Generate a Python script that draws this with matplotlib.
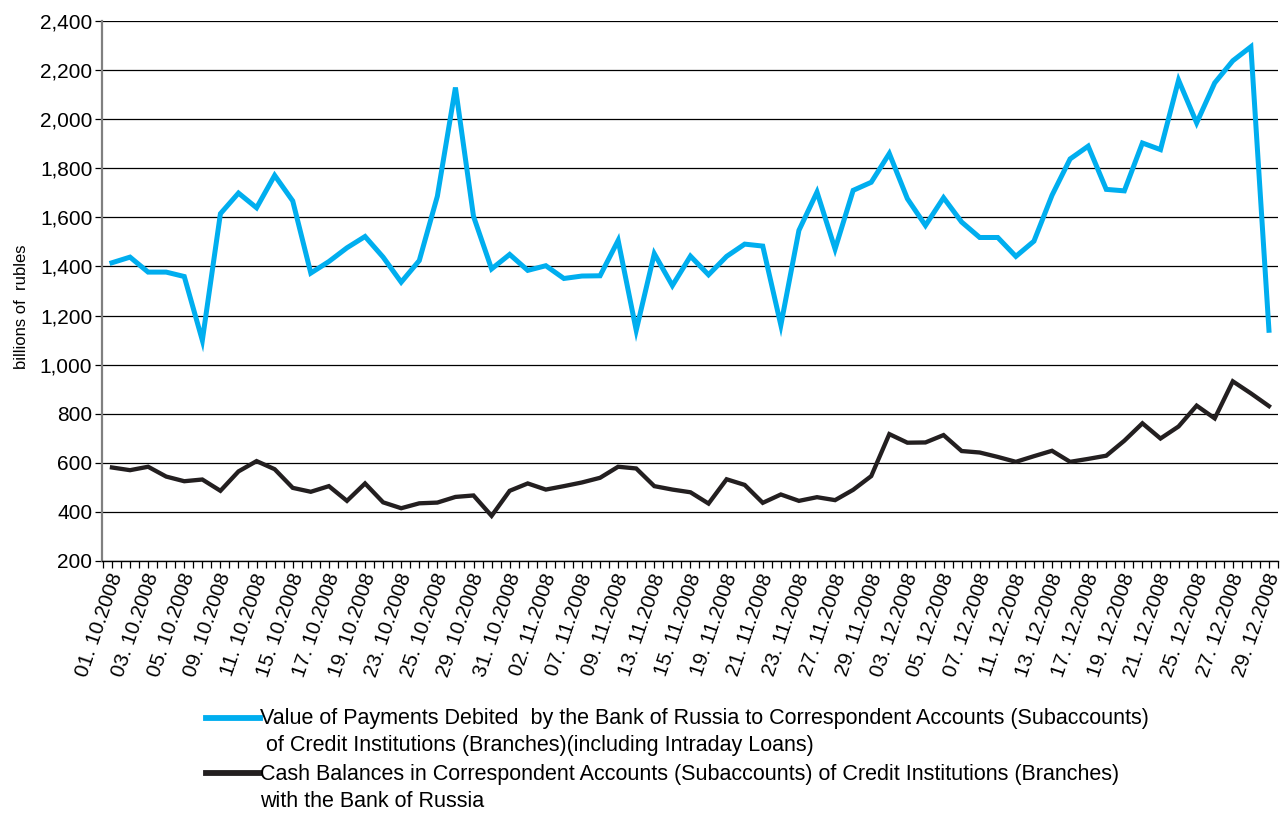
import numpy as np
import matplotlib
matplotlib.use('Agg')
import matplotlib.pyplot as plt
import matplotlib.transforms as mtransforms
from matplotlib.legend_handler import HandlerLine2D
from matplotlib.ticker import FuncFormatter, MultipleLocator

payments = [1415, 1438, 1377, 1377, 1359, 1099, 1615, 1699, 1639, 1771,
            1667, 1373, 1420, 1476, 1522, 1438, 1336, 1424, 1686, 2129,
            1604, 1390, 1449, 1384, 1403, 1351, 1361, 1362, 1506, 1140,
            1452, 1322, 1442, 1366, 1441, 1491, 1483, 1161, 1547, 1703,
            1471, 1710, 1743, 1860, 1676, 1567, 1680, 1581, 1518, 1518,
            1441, 1503, 1690, 1838, 1890, 1714, 1708, 1903, 1876, 2159,
            1985, 2148, 2238, 2295, 1140]

balances = [581, 570, 584, 544, 525, 532, 486, 565, 607, 574,
            498, 482, 505, 445, 516, 439, 415, 435, 438, 461,
            467, 384, 486, 516, 491, 505, 520, 539, 584, 577,
            505, 491, 480, 434, 533, 510, 437, 471, 445, 460,
            448, 490, 546, 717, 682, 683, 713, 648, 642, 624,
            604, 627, 649, 604, 616, 629, 690, 761, 699, 748,
            833, 781, 932, 883, 831]

# every second date is labelled on the axis
tick_labels = ['01. 10.2008', '03. 10.2008', '05. 10.2008', '09. 10.2008', '11. 10.2008',
               '15. 10.2008', '17. 10.2008', '19. 10.2008', '23. 10.2008', '25. 10.2008',
               '29. 10.2008', '31. 10.2008', '02. 11.2008', '07. 11.2008', '09. 11.2008',
               '13. 11.2008', '15. 11.2008', '19. 11.2008', '21. 11.2008', '23. 11.2008',
               '27. 11.2008', '29. 11.2008', '03. 12.2008', '05. 12.2008', '07. 12.2008',
               '11. 12.2008', '13. 12.2008', '17. 12.2008', '19. 12.2008', '21. 12.2008',
               '25. 12.2008', '27. 12.2008', '29. 12.2008']

label_payments = ('Value of Payments Debited  by the Bank of Russia to Correspondent Accounts (Subaccounts)\n'
                  ' of Credit Institutions (Branches)(including Intraday Loans)')
label_balances = ('Cash Balances in Correspondent Accounts (Subaccounts) of Credit Institutions (Branches)\n'
                  'with the Bank of Russia')

plt.rcParams['font.family'] = ['Liberation Sans', 'DejaVu Sans']

x = np.arange(len(payments))

fig = plt.figure(figsize=(12.82, 8.17), dpi=100)
ax = fig.add_axes([102 / 1282, 1 - 561 / 817, 1176 / 1282, 540 / 817])

l1, = ax.plot(x, payments, color='#00AEEF', lw=3.6, solid_joinstyle='miter', label=label_payments)
l2, = ax.plot(x, balances, color='#231F20', lw=3.1, solid_joinstyle='miter', label=label_balances)

ax.set_ylim(200, 2400)
ax.set_xlim(-0.55, 64.4)
ax.yaxis.set_major_locator(MultipleLocator(200))
ax.yaxis.set_major_formatter(FuncFormatter(lambda v, p: f'{int(v):,}'))
ax.grid(axis='y', color='black', lw=0.9)
ax.set_axisbelow(True)

ax.set_xticks(np.arange(0, len(payments), 2))
ax.set_xticklabels(tick_labels, rotation=71, ha='right', rotation_mode='anchor', fontsize=14.8)
ax.set_xticks(np.arange(-0.5, len(payments), 0.5), minor=True)
ax.tick_params(axis='x', which='both', direction='out', length=5, width=0.9, color='black', pad=2)
ax.tick_params(axis='y', direction='out', length=5, width=0.9, color='black', labelsize=15, pad=2)

# nudge the rotated date labels a little to the left
shift = mtransforms.ScaledTranslation(-4 / 100, 0, fig.dpi_scale_trans)
for lab in ax.get_xticklabels():
    lab.set_transform(lab.get_transform() + shift)

for s in ['top', 'right']:
    ax.spines[s].set_visible(False)
ax.spines['left'].set_color('#808080')
ax.spines['left'].set_linewidth(1.6)
ax.spines['bottom'].set_color('black')
ax.spines['bottom'].set_linewidth(1.0)

ax.set_ylabel('billions of  rubles', fontsize=12)
ax.yaxis.set_label_coords(-0.062, 0.47)


class TopLineHandler(HandlerLine2D):
    # put the legend key next to the first text line
    def create_artists(self, legend, orig_handle, xdescent, ydescent, width, height, fontsize, trans):
        arts = super().create_artists(legend, orig_handle, xdescent, ydescent, width, height, fontsize, trans)
        for a in arts:
            a.set_ydata(np.asarray(a.get_ydata()) + 0.68 * fontsize)
        return arts


leg = fig.legend(handles=[l1, l2], loc='upper left', bbox_to_anchor=(206 / 1282, 1 - 708 / 817),
                 frameon=False, fontsize=15.5, handlelength=2.5, handletextpad=0.0,
                 labelspacing=0.35, borderpad=0, borderaxespad=0,
                 handler_map={l1: TopLineHandler(), l2: TopLineHandler()})
for t in leg.get_texts():
    t.set_linespacing(1.38)
for h in leg.legend_handles:
    h.set_linewidth(4.2)

fig.savefig('out.png', dpi=100)
